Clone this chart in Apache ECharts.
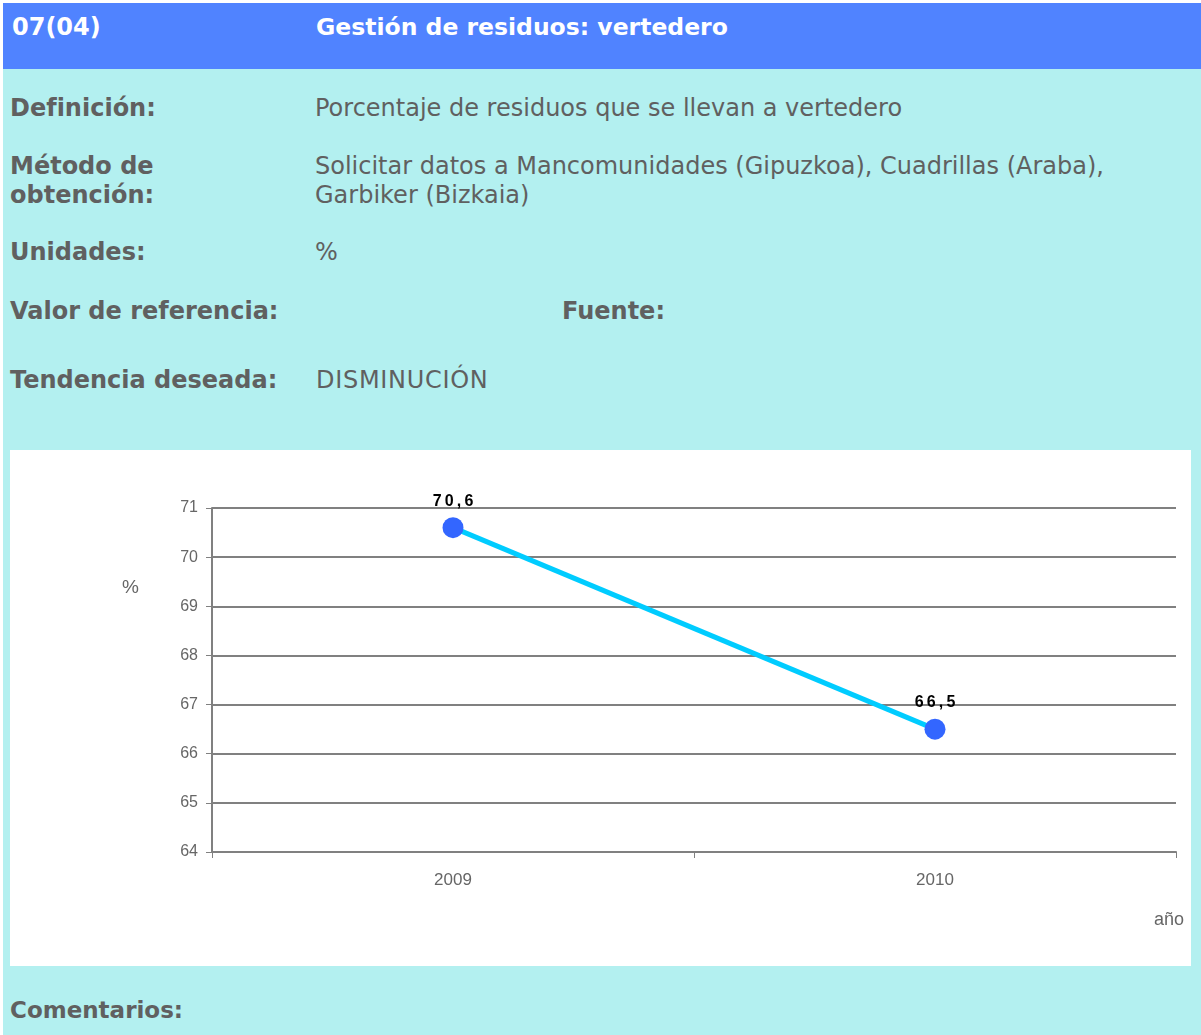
<!DOCTYPE html>
<html lang="es">
<head>
<meta charset="UTF-8">
<title>Gestión de residuos: vertedero</title>
<style>
  html, body { margin: 0; padding: 0; background: #fff; }
  #page { position: absolute; left: 3px; top: 3px; width: 1198px; height: 1032px; background: #b3f0f0;
          font-family: "DejaVu Sans", Verdana, sans-serif; color: #606060; }
  #head { position: absolute; left: 0; top: 0; width: 1198px; height: 66px; background: #5083ff; color: #fff; }
  .t { position: absolute; white-space: nowrap; font-size: 24px; line-height: 30px; }
  .b { font-weight: bold; }
  #main { position: absolute; left: 7px; top: 447px; width: 1181px; height: 516px; background: #fff; }
</style>
</head>
<body>
<div id="page">
  <div id="head">
    <div class="t b" style="left:9px;top:9px;">07(04)</div>
    <div class="t b" style="left:313px;top:9px;font-size:23.5px;">Gestión de residuos: vertedero</div>
  </div>
  <div class="t b" style="left:7px;top:90px;">Definición:</div>
  <div class="t" style="left:312px;top:90px;">Porcentaje de residuos que se llevan a vertedero</div>
  <div class="t b" style="left:7px;top:148px;">Método de</div>
  <div class="t b" style="left:7px;top:177px;">obtención:</div>
  <div class="t" style="left:312px;top:148px;">Solicitar datos a Mancomunidades (Gipuzkoa), Cuadrillas (Araba),</div>
  <div class="t" style="left:312px;top:177px;">Garbiker (Bizkaia)</div>
  <div class="t b" style="left:7px;top:234px;">Unidades:</div>
  <div class="t" style="left:312px;top:234px;">%</div>
  <div class="t b" style="left:7px;top:293px;">Valor de referencia:</div>
  <div class="t b" style="left:559px;top:293px;">Fuente:</div>
  <div class="t b" style="left:7px;top:362px;">Tendencia deseada:</div>
  <div class="t" style="left:313px;top:362px;letter-spacing:0.7px;">DISMINUCIÓN</div>
  <div id="main"></div>
  <div class="t b" style="left:7px;top:992px;font-size:23px;">Comentarios:</div>
</div>
<script src="https://cdn.jsdelivr.net/npm/echarts@6/dist/echarts.min.js"></script>
<script>
  // datos
  const years = ['2009', '2010'];
  const values = [70.6, 66.5];
  const yMin = 64, yMax = 71, yStep = 1;

  var myChart = echarts.init(document.getElementById('main'));
  var option = {
    animation: false,
    backgroundColor: '#fff',
    grid: { left: 202, right: 15, top: 58, bottom: 114 },
    xAxis: {
      type: 'category',
      data: years,
      boundaryGap: true,
      axisLine: { lineStyle: { color: '#808080', width: 2 } },
      axisTick: { show: true, length: 6, lineStyle: { color: '#808080', width: 1 } },
      axisLabel: { color: '#666', fontSize: 17, fontFamily: 'Liberation Sans, Arial', margin: 20 }
    },
    yAxis: {
      type: 'value',
      min: yMin, max: yMax, interval: yStep,
      axisLine: { show: true, lineStyle: { color: '#808080', width: 2 } },
      axisTick: { show: true, length: 6, lineStyle: { color: '#808080' } },
      axisLabel: { color: '#666', fontSize: 16, fontFamily: 'Liberation Sans, Arial', margin: 14 },
      splitLine: { lineStyle: { color: '#808080', width: 2 } }
    },
    graphic: [
      { type: 'text', left: 112, top: 128, style: { text: '%', fill: '#666', font: '19px Liberation Sans, Arial' } },
      { type: 'text', left: 1144, top: 461, style: { text: 'año', fill: '#666', font: '18px Liberation Sans, Arial' } }
    ],
    series: [{
      type: 'line',
      data: values,
      symbol: 'circle',
      symbolSize: 21,
      itemStyle: { color: '#3366ff' },
      lineStyle: { color: '#00ccff', width: 5 },
      label: {
        show: true, position: 'top', distance: 8,
        color: '#000', fontWeight: 'bold', fontSize: 16, fontFamily: 'Liberation Sans, Arial',
        formatter: p => p.value.toFixed(1).replace('.', ',').split('').join('\u2009')
      }
    }]
  };
  myChart.setOption(option);
</script>
</body>
</html>
